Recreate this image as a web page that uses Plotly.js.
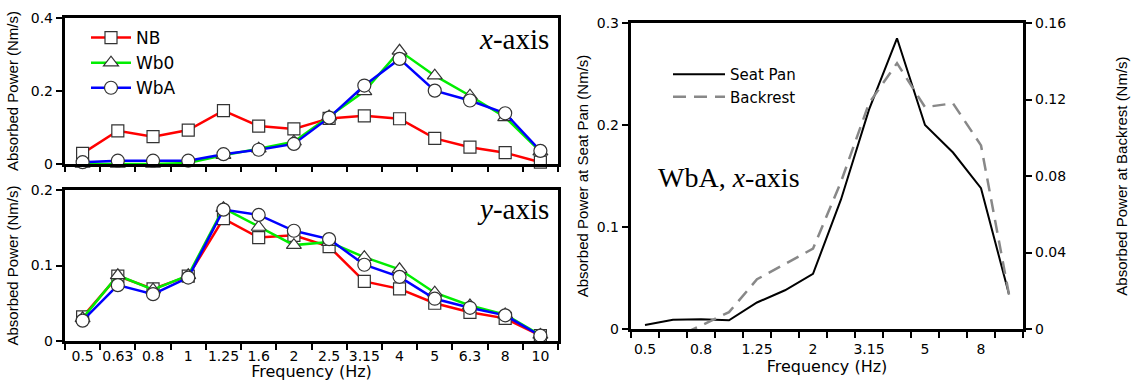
<!DOCTYPE html>
<html><head><meta charset="utf-8">
<script src="https://cdn.plot.ly/plotly-3.0.1.min.js"></script>
<style>html,body{margin:0;padding:0;background:#fff}</style>
</head><body><div id="chart" style="width:1133px;height:381px"></div>
<script>
// Categories (third-octave centre frequencies, Hz)
const freqs = ['0.5','0.63','0.8','1','1.25','1.6','2','2.5','3.15','4','5','6.3','8','10'];
// x-axis (fore-and-aft) absorbed power, Nm/s
const xNB  = [0.029,0.091,0.075,0.093,0.146,0.104,0.096,0.125,0.132,0.124,0.070,0.046,0.031,0.005];
const xWb0 = [0.000,0.000,0.000,0.003,0.024,0.042,0.061,0.130,0.199,0.310,0.242,0.187,0.128,0.034];
const xWbA = [0.005,0.009,0.009,0.009,0.027,0.039,0.055,0.127,0.215,0.288,0.201,0.174,0.139,0.036];
// y-axis (lateral) absorbed power, Nm/s
const yNB  = [0.032,0.086,0.069,0.086,0.162,0.137,0.140,0.125,0.079,0.069,0.050,0.038,0.030,0.007];
const yWb0 = [0.030,0.087,0.068,0.087,0.176,0.151,0.127,0.131,0.111,0.095,0.064,0.047,0.035,0.008];
const yWbA = [0.027,0.074,0.062,0.084,0.174,0.167,0.146,0.135,0.101,0.085,0.056,0.044,0.034,0.007];
// WbA, x-axis: seat pan vs backrest, Nm/s
const seatPan  = [0.004,0.009,0.0095,0.0085,0.026,0.038,0.054,0.127,0.215,0.285,0.200,0.173,0.138,0.034];
const backrest = [-0.008,-0.005,0.0018,0.0088,0.026,0.034,0.042,0.077,0.118,0.139,0.116,0.118,0.096,0.018];

const W = 1133, H = 381;
const px = v => v / W;
const py = v => 1 - v / H;

const tickFont = {family: 'DejaVu Sans', size: 14, color: '#000'};
const yTitleFont = {family: 'Liberation Sans, Arial', size: 15, color: '#000'};
const xTitleFont = {family: 'DejaVu Sans', size: 16, color: '#000'};

const mk = {
  NB:  {symbol: 'square', size: 12, color: '#fff', line: {color: '#333', width: 1.2}},
  Wb0: {symbol: 'triangle-up', size: 13, color: '#fff', line: {color: '#333', width: 1.2}},
  WbA: {symbol: 'circle', size: 13, color: '#fff', line: {color: '#333', width: 1.2}}
};
const col = {NB: '#ff0000', Wb0: '#00ee00', WbA: '#0000ff'};

function series(name, vals, xa, ya, show) {
  return {x: freqs, y: vals, name: name, type: 'scatter', mode: 'lines+markers',
    xaxis: xa, yaxis: ya, showlegend: show, legend: 'legend', cliponaxis: false,
    line: {color: col[name], width: 2.5}, marker: mk[name]};
}

const data = [
  series('NB', xNB, 'x', 'y', true),
  series('Wb0', xWb0, 'x', 'y', true),
  series('WbA', xWbA, 'x', 'y', true),
  series('NB', yNB, 'x2', 'y2', false),
  series('Wb0', yWb0, 'x2', 'y2', false),
  series('WbA', yWbA, 'x2', 'y2', false),
  {x: freqs, y: seatPan, name: 'Seat Pan', type: 'scatter', mode: 'lines', xaxis: 'x3', yaxis: 'y3',
   legend: 'legend2', line: {color: '#000', width: 2}},
  {x: freqs, y: backrest, name: 'Backrest', type: 'scatter', mode: 'lines', xaxis: 'x3', yaxis: 'y4',
   legend: 'legend2', line: {color: '#888', width: 2.5, dash: '13px,8px'}}
];

function xAx(dom, anchor, extra) {
  return Object.assign({domain: dom, anchor: anchor, type: 'category', categoryorder: 'array',
    categoryarray: freqs, range: [-0.5, 13.5], tickson: 'boundaries', ticks: 'outside', tickangle: 0,
    ticklen: 6, tickwidth: 2, tickcolor: '#000', showline: true, linewidth: 3.2, linecolor: '#000',
    mirror: true, showgrid: false, zeroline: false, tickfont: tickFont, automargin: false}, extra);
}
function yAx(dom, anchor, range, dtick, title, standoff, extra) {
  return Object.assign({domain: dom, anchor: anchor, range: range, dtick: dtick, tick0: 0,
    ticks: 'outside', ticklen: 6, tickwidth: 2, tickcolor: '#000', showline: true, linewidth: 3.2,
    linecolor: '#000', mirror: true, showgrid: false, zeroline: false, tickfont: tickFont,
    automargin: false, title: {text: title, font: yTitleFont, standoff: standoff}}, extra);
}

const leftDom = [px(65), px(558)];
const layout = {
  width: W, height: H, margin: {l: 0, r: 0, t: 0, b: 0}, paper_bgcolor: '#fff', plot_bgcolor: 'rgba(0,0,0,0)',
  font: {family: 'DejaVu Sans', color: '#000'},
  xaxis: xAx(leftDom, 'y', {showticklabels: false, ticklen: 5}),
  yaxis: yAx([py(164), py(18)], 'x', [0, 0.4], 0.2, 'Absorbed Power (Nm/s)', 9, {}),
  xaxis2: xAx(leftDom, 'y2', {title: {text: 'Frequency (Hz)', font: xTitleFont, standoff: 0}}),
  yaxis2: yAx([py(341), py(190)], 'x2', [0, 0.2], 0.1, 'Absorbed Power (Nm/s)', 9, {}),
  xaxis3: xAx([px(631), px(1023)], 'y3', {ticklabelstep: 2, ticklabelstandoff: 5,
    title: {text: 'Frequency (Hz)', font: xTitleFont, standoff: 0}}),
  yaxis3: yAx([py(329), py(23)], 'x3', [0, 0.3], 0.1, 'Absorbed Power at Seat Pan (Nm/s)', 5, {mirror: false}),
  yaxis4: yAx([py(329), py(23)], 'x3', [0, 0.16], 0.04, 'Absorbed Power at Backrest (Nm/s)', 52,
    {overlaying: 'y3', side: 'right', mirror: false}),
  showlegend: true,
  legend: {x: px(86), y: py(20), xanchor: 'left', yanchor: 'top', bgcolor: 'rgba(0,0,0,0)',
    font: {family: 'DejaVu Sans', size: 17, color: '#000'}, itemwidth: 40, tracegroupgap: 0},
  legend2: {x: px(668), y: py(58), xanchor: 'left', yanchor: 'top', bgcolor: 'rgba(0,0,0,0)',
    font: {family: 'DejaVu Sans', size: 15, color: '#000'}, itemwidth: 52},
  annotations: [
    {text: '<i>x</i>-axis', xref: 'paper', yref: 'paper', x: px(551), y: py(39), xanchor: 'right', yanchor: 'middle',
     showarrow: false, font: {family: 'Liberation Serif, Times New Roman', size: 29, color: '#000'}},
    {text: '<i>y</i>-axis', xref: 'paper', yref: 'paper', x: px(551), y: py(209), xanchor: 'right', yanchor: 'middle',
     showarrow: false, font: {family: 'Liberation Serif, Times New Roman', size: 29, color: '#000'}},
    {text: 'WbA, <i>x</i>-axis', xref: 'paper', yref: 'paper', x: px(656), y: py(177), xanchor: 'left', yanchor: 'middle',
     showarrow: false, font: {family: 'Liberation Serif, Times New Roman', size: 28, color: '#000'}}
  ]
};

Plotly.newPlot('chart', data, layout, {staticPlot: true, displayModeBar: false});
</script></body></html>
